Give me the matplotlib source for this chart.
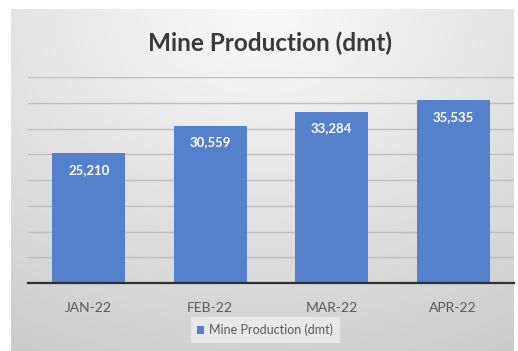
import numpy as np
import matplotlib
matplotlib.use("Agg")
import matplotlib.pyplot as plt

categories = ["JAN-22", "FEB-22", "MAR-22", "APR-22"]
values = [25210, 30559, 33284, 35535]
series_name = "Mine Production (dmt)"
title = "Mine Production (dmt)"

W, H = 518, 351
fig = plt.figure(figsize=(W / 100, H / 100), dpi=100)
fig.patch.set_facecolor("white")

# gradient background panel
bg = fig.add_axes([11 / W, 0, (514 - 11) / W, (H - 9) / H])
bg.set_axis_off()
yy, xx = np.mgrid[0:1:200j, 0:1:300j]
d = np.sqrt(((xx - 0.5) * 1.0) ** 2 + (yy * 0.9) ** 2)
d = d / d.max()
val = 0.975 - 0.18 * d ** 1.1
img = np.dstack([val, val, val])
bg.imshow(img, aspect="auto", extent=[0, 1, 0, 1], origin="upper")
bg.set_zorder(0)

ax = fig.add_axes([28 / W, 1 - 283 / H, (514 - 28) / W, (283 - 77) / H])
ax.set_zorder(1)
ax.patch.set_alpha(0)
x = np.arange(len(categories))
bars = ax.bar(x, values, width=0.6, color="#5580CB", zorder=2)
ax.set_xlim(-0.5, len(categories) - 0.5)
ax.set_ylim(0, 40000)
ax.set_yticks(np.arange(5000, 40001, 5000))
ax.yaxis.grid(True, color="#bdbdbd", linewidth=1.0, zorder=0)
ax.set_axisbelow(True)
ax.tick_params(axis="y", left=False, labelleft=False)
ax.tick_params(axis="x", bottom=False, labelsize=10, labelcolor="#595959", pad=10)
ax.set_xticks(x)
ax.set_xticklabels(categories, fontfamily="Lato")
for s in ["left", "right", "top"]:
    ax.spines[s].set_visible(False)
ax.spines["bottom"].set_color("#303030")
ax.spines["bottom"].set_linewidth(1.6)

for xi, v in zip(x, values):
    ax.annotate(f"{v:,}", (xi, v), xytext=(0, -12), textcoords="offset points",
                ha="center", va="center", color="white", fontsize=9.5,
                fontweight="bold", fontfamily="Lato", zorder=3)

fig.text(270 / W, 1 - 43 / H, title, ha="center", va="center",
         fontsize=17.5, fontweight="bold", color="#3a3a3a", fontfamily="Lato")

leg = fig.legend([bars], [series_name], loc="center", bbox_to_anchor=(265 / W, 1 - 330 / H),
                 frameon=True, fancybox=False, handlelength=0.6, handleheight=0.6,
                 handletextpad=0.4, borderpad=0.5, prop={"family": "Lato", "size": 9})
leg.get_frame().set_facecolor("#eeeeee")
leg.get_frame().set_edgecolor("none")
for t in leg.get_texts():
    t.set_color("#595959")

fig.savefig("out.png", dpi=100)
